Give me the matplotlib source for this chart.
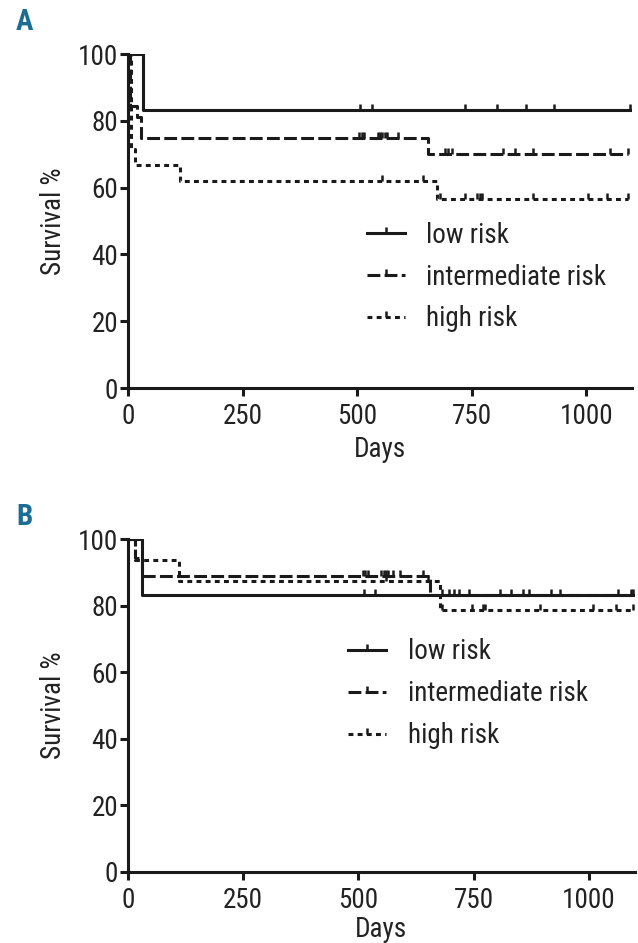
import numpy as np
import matplotlib.pyplot as plt
from matplotlib.path import Path
from matplotlib.lines import Line2D

plt.rcParams['font.family'] = ['Roboto Condensed', 'DejaVu Sans']

# ---- panel A data (days, survival %) ----
a_low_t = [0, 32]
a_low_s = [100, 83.3]
a_low_c = [507, 532, 736, 805, 869, 930, 1096]

a_int_t = [0, 4, 19, 28, 655]
a_int_s = [100, 84.4, 81.0, 75.0, 70.2]
a_int_c = [505, 510, 515, 545, 550, 555, 560, 565, 590, 692, 699, 707, 819, 845, 884, 1052, 1092]

a_high_t = [0, 6, 15, 113, 675]
a_high_s = [100, 71.7, 66.7, 61.9, 56.5]
a_high_c = [555, 644, 681, 736, 762, 768, 773, 884, 1004, 1045, 1092]

# ---- panel B data ----
b_low_t = [0, 30]
b_low_s = [100, 83.3]
b_low_c = [511, 535, 740, 808, 871, 937, 1096]

b_int_t = [0, 15, 30, 655]
b_int_s = [100, 94.4, 88.9, 83.3]
b_int_c = [510, 515, 520, 550, 555, 560, 565, 575, 590, 640, 681, 696, 707, 718, 830, 856, 917, 1063, 1092]

b_high_t = [0, 15, 111, 677]
b_high_s = [100, 93.75, 87.5, 78.75]
b_high_c = [560, 650, 681, 747, 771, 775, 893, 1009, 1059, 1096]

labels = ["low risk", "intermediate risk", "high risk"]
xticks = [0, 250, 500, 750, 1000]
yticks = [0, 20, 40, 60, 80, 100]

# upward tick used for censored observations
tick_up = Path([(0, 0), (0, 1)], [Path.MOVETO, Path.LINETO])
lw = 2.2
ink = '#1a1a1a'
txt = '#222222'
styles = [dict(linestyle='-'),
          dict(linestyle=(0, (4.2, 1.4))),
          dict(linestyle=(0, (1.6, 1.4)))]

fs = 19.5


def km_panel(ax, groups, xlabelpad):
    for (t, s, c), st in zip(groups, styles):
        t = np.array(t, float)
        s = np.array(s, float)
        end = max(c)
        tt = np.append(t, end)
        ss = np.append(s, s[-1])
        ax.step(tt, ss, where='post', color=ink, lw=lw,
                dash_capstyle='butt', **st)
        cy = s[np.searchsorted(t, c, side='right') - 1]
        ax.plot(c, cy, linestyle='none', marker=tick_up, ms=9,
                mew=1.8, color=ink)
    ax.set_xlim(0, 1100)
    ax.set_ylim(0, 100)
    ax.set_xticks(xticks)
    ax.set_yticks(yticks)
    for sp in ['top', 'right']:
        ax.spines[sp].set_visible(False)
    for sp in ['left', 'bottom']:
        ax.spines[sp].set_linewidth(2.2)
        ax.spines[sp].set_color(ink)
    ax.tick_params(width=2.2, length=6, labelsize=fs, color=ink,
                   labelcolor=txt, pad=1)
    ax.tick_params(axis='x', pad=5)
    ax.set_xlabel("Days", fontsize=fs, color=txt, labelpad=xlabelpad)
    ax.set_ylabel("Survival %", fontsize=fs, color=txt, labelpad=8)


def legend_handles():
    hs = []
    for st in styles:
        hs.append(Line2D([], [], color=ink, lw=lw, marker=tick_up,
                         ms=9, mew=1.8, dash_capstyle='butt', **st))
    return hs


fig = plt.figure(figsize=(6.38, 9.43), dpi=100)
axA = fig.add_axes([0.2006, 0.5885, 0.790, 0.3542])
axB = fig.add_axes([0.2006, 0.0753, 0.7947, 0.3531])

km_panel(axA, [(a_low_t, a_low_s, a_low_c),
               (a_int_t, a_int_s, a_int_c),
               (a_high_t, a_high_s, a_high_c)], 4)
km_panel(axB, [(b_low_t, b_low_s, b_low_c),
               (b_int_t, b_int_s, b_int_c),
               (b_high_t, b_high_s, b_high_c)], 1)

for ax, anchor in [(axA, (0.474, 0.498)), (axB, (0.434, 0.702))]:
    ax.legend(legend_handles(), labels, loc='upper left', bbox_to_anchor=anchor,
              frameon=False, fontsize=fs, handlelength=1.40, handletextpad=0.80,
              labelspacing=0.55, numpoints=1, borderaxespad=0, borderpad=0,
              labelcolor=txt)

fig.text(0.0385, 0.9765, "A", fontsize=21, fontweight='bold', color='#1b6d94',
         ha='center', va='center')
fig.text(0.039, 0.4515, "B", fontsize=21, fontweight='bold', color='#1b6d94',
         ha='center', va='center')

fig.savefig("out.png", dpi=100)
